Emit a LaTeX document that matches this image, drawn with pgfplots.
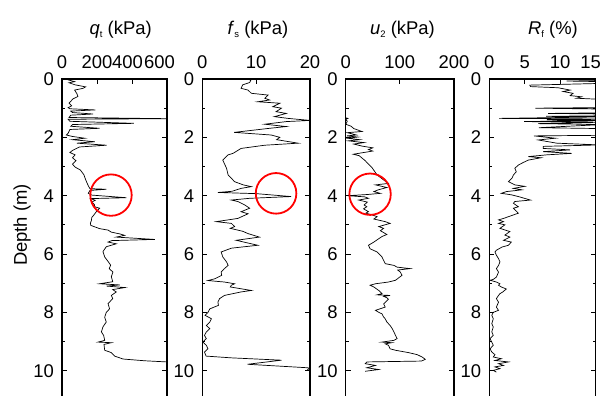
\documentclass[border=0pt]{standalone}
\usepackage{fontspec}
\setmainfont{Liberation Sans}
\usepackage{pgfplots}
\usepackage{pgfplotstable}
\pgfplotsset{compat=1.18}

\pgfplotstableread{
x y
30 0.0
35 0.03
72 0.09
40 0.13
75 0.2
135 0.27
120 0.32
72 0.38
85 0.5
91 0.6
63 0.68
40 0.83
55 0.92
35 0.98
45 1.02
190 1.06
50 1.1
60 1.15
178 1.2
50 1.24
40 1.32
600 1.36
35 1.38
45 1.45
411 1.52
60 1.56
50 1.62
215 1.69
45 1.73
40 1.8
35 1.86
25 1.92
60 1.97
130 2.03
60 2.08
187 2.15
85 2.2
255 2.27
100 2.33
60 2.45
45 2.52
75 2.6
60 2.7
80 2.8
60 2.92
75 3.02
105 3.12
125 3.28
135 3.45
142 3.55
152 3.68
160 3.76
253 3.78
160 3.82
150 3.92
170 3.98
368 4.07
165 4.1
190 4.16
170 4.22
185 4.3
187 4.38
215 4.43
196 4.55
185 4.64
170 4.75
168 4.85
162 4.95
165 5.02
215 5.13
263 5.18
282 5.25
330 5.31
358 5.36
310 5.42
530 5.5
285 5.54
263 5.59
310 5.65
253 5.75
234 5.92
244 6.1
259 6.22
278 6.38
270 6.5
291 6.62
282 6.78
290 6.95
215 7.02
330 7.06
255 7.1
360 7.15
290 7.22
310 7.3
282 7.42
290 7.53
263 7.7
272 7.88
253 8.0
244 8.17
253 8.33
234 8.5
225 8.67
238 8.79
244 8.96
206 9.02
282 9.04
240 9.1
244 9.3
282 9.38
301 9.5
349 9.6
472 9.66
600 9.7
}\qtdata

\pgfplotstableread{
x y
8.6 0.0
9.0 0.05
8.8 0.12
7.5 0.2
7.2 0.32
8.5 0.38
9.1 0.49
12.2 0.55
11.6 0.66
12.5 0.72
10.3 0.78
14.4 0.83
13.1 0.95
14.7 1.0
13.7 1.12
15.6 1.18
13.4 1.29
15.9 1.35
20 1.42
15.6 1.46
11.6 1.55
15.6 1.63
12.5 1.69
5.9 1.83
12.8 1.92
14.4 2.0
13.8 2.08
17.8 2.2
11.6 2.27
7.2 2.38
5.7 2.55
4.8 2.6
3.8 2.78
4.1 2.9
4.5 3.06
4.8 3.29
6.0 3.52
7.6 3.63
9.1 3.69
7.2 3.75
5.5 3.85
2.9 3.89
10.0 3.93
16.5 4.03
8.8 4.09
5.4 4.15
6.6 4.2
7.9 4.32
8.8 4.43
7.2 4.55
8.5 4.62
6.6 4.78
2.6 4.89
5.4 4.95
6.0 5.06
5.2 5.12
7.5 5.22
8.5 5.3
10.6 5.42
6.3 5.53
10.3 5.70
5.4 5.8
3.5 5.93
3.8 6.1
4.5 6.27
4.8 6.39
4.1 6.5
3.5 6.62
3.6 6.73
2.3 6.85
1.05 6.91
4.1 6.96
6.0 7.02
5.4 7.07
5.2 7.13
9.1 7.25
7.2 7.3
4.1 7.42
3.2 7.53
2.9 7.65
3.0 7.76
1.4 7.88
1.05 8.0
0.5 8.1
1.7 8.22
1.4 8.33
0.75 8.45
1.4 8.56
0.75 8.67
0.4 8.79
0.75 8.9
0.1 9.02
0.75 9.13
1.05 9.25
0.4 9.36
0.7 9.5
5.4 9.56
14.7 9.64
8.4 9.78
19.6 9.9
20 9.93
19.5 9.96
}\fsdata

\pgfplotstableread{
x y
0 1.33
4 1.35
0 1.38
3 1.45
0 1.55
10 1.62
15 1.7
30 1.8
3 1.84
20 1.92
2 1.95
22 1.99
3 2.03
26 2.08
5 2.12
34 2.18
15 2.23
30 2.3
50 2.36
42 2.42
50 2.47
30 2.53
14 2.58
25 2.63
36 2.8
49 3.05
58 3.29
70 3.46
79 3.58
55 3.63
76 3.72
60 3.8
52 3.86
64 3.92
40 3.96
4 4.0
35 4.04
42 4.09
24 4.15
40 4.22
34 4.32
39 4.38
33 4.45
42 4.55
37 4.6
49 4.66
58 4.72
52 4.8
73 4.89
82 4.95
61 5.06
70 5.12
64 5.2
76 5.33
67 5.4
52 5.59
42 5.7
45 5.82
58 5.93
67 6.1
70 6.22
73 6.33
89 6.39
95 6.45
119 6.5
96 6.55
101 6.62
104 6.73
92 6.9
79 6.96
55 7.02
45 7.07
52 7.13
61 7.25
67 7.36
58 7.4
82 7.42
70 7.45
76 7.5
79 7.55
70 7.71
73 7.82
55 7.93
61 8.0
67 8.05
70 8.16
73 8.22
76 8.33
82 8.45
86 8.56
89 8.67
92 8.79
95 8.9
89 8.96
67 9.02
85 9.04
73 9.08
79 9.13
82 9.25
92 9.3
116 9.38
132 9.45
141 9.53
147 9.61
140 9.67
39 9.7
36 9.76
55 9.82
39 9.9
61 9.96
36 10.02
}\uudata

\pgfplotstableread{
x y
16 0.05
10.9 0.07
16 0.09
16 0.15
5.7 0.21
5.8 0.26
9.7 0.3
11.4 0.38
10.4 0.43
11.8 0.49
11.4 0.57
13.0 0.61
12.3 0.66
16 0.7
16 0.98
6.5 1.0
16 1.03
16 1.16
8.3 1.18
16 1.2
16 1.26
8.0 1.28
16 1.3
1.4 1.35
16 1.37
8.1 1.4
16 1.42
4.9 1.46
16 1.48
6.9 1.53
16 1.56
7.0 1.67
16 1.7
16 1.93
6.3 1.95
9.3 2.03
6.9 2.09
9.5 2.2
15.5 2.26
7.6 2.31
7.6 2.38
11.4 2.43
7.6 2.49
11.6 2.55
8.1 2.6
5.5 2.66
7.3 2.7
5.5 2.78
4.8 2.86
4.1 2.95
3.6 3.06
3.8 3.18
3.4 3.29
3.2 3.4
2.7 3.52
3.6 3.63
5.0 3.68
3.4 3.75
4.6 3.8
2.4 3.86
1.7 3.92
3.1 3.97
4.1 4.03
5.8 4.15
3.6 4.2
3.4 4.26
4.1 4.38
3.4 4.43
3.9 4.55
4.1 4.6
3.4 4.66
2.0 4.78
1.3 4.83
2.0 4.89
1.3 4.95
2.2 5.0
1.5 5.12
2.9 5.23
2.2 5.35
2.9 5.42
2.0 5.53
3.1 5.59
2.7 5.7
1.8 5.76
1.0 5.87
0.8 5.93
1.0 6.04
1.3 6.16
1.5 6.27
1.3 6.39
1.0 6.5
1.3 6.62
1.0 6.79
0.56 6.87
0.1 6.9
1.0 6.96
1.5 7.02
1.3 7.07
1.7 7.13
2.4 7.2
1.9 7.3
1.5 7.36
1.3 7.42
1.0 7.53
1.3 7.65
1.0 7.82
1.3 7.93
0.56 8.0
0.35 8.1
0.56 8.22
0.35 8.39
0.56 8.5
0.35 8.67
0.56 8.79
0.1 8.9
0.35 9.02
0.56 9.13
0.1 9.25
0.35 9.36
0.8 9.45
0.56 9.53
1.7 9.59
0.8 9.65
2.7 9.7
1.3 9.76
2.0 9.82
0.8 9.87
1.5 9.93
0.56 9.99
1.0 10.05
}\rfdata

\pgfplotsset{
  cpt/.style={
    scale only axis,
    height=329.6bp,
    ymin=0, ymax=11.3,
    y dir=reverse,
    ytick={0,2,4,6,8,10},
    minor ytick={1,3,5,7,9,11},
    tick align=inside,
    xtick pos=upper, ytick pos=both,
    xticklabel pos=upper,
    yticklabel pos=lower,
    major tick length=5bp,
    minor tick length=3bp,
    every tick/.style={black, line width=0.9bp},
    axis line style={line width=1.2bp},
    tick label style={font=\fontsize{18.5}{20}\selectfont},
    /pgf/number format/assume math mode=true,
    xticklabel style={inner sep=0pt, anchor=south, yshift=10.5bp},
    yticklabel style={inner sep=0pt, anchor=east, xshift=-8bp},
    anchor=north west,
  },
  curve/.style={black, line width=0.7bp, mark=none},
}

\begin{document}
\begin{tikzpicture}
\useasboundingbox (0,0) rectangle (608bp,-396bp);
\fill[white] (0,0) rectangle (608bp,-396bp);

\begin{axis}[cpt, at={(62bp,-79bp)}, width=105bp,
  xmin=0, xmax=600, xtick={0,200,400,600},
  xticklabels={0,200,{\makebox[0pt]{\hspace*{-9bp}400}},{\makebox[0pt]{\hspace*{-15bp}600}}}]
\addplot[curve] table[x=x,y=y] {\qtdata};
\draw[red, line width=1.8bp] (axis cs:280,3.98) circle[radius=20.7bp];
\end{axis}

\begin{axis}[cpt, at={(202.3bp,-79bp)}, width=107.7bp,
  xmin=0, xmax=20, xtick={0,10,20}]
\addplot[curve] table[x=x,y=y] {\fsdata};
\draw[red, line width=1.8bp] (axis cs:13.7,3.92) circle[radius=20.3bp];
\end{axis}

\begin{axis}[cpt, at={(345.7bp,-79bp)}, width=108.3bp,
  xmin=0, xmax=200, xtick={0,100,200}]
\addplot[curve] table[x=x,y=y] {\uudata};
\draw[red, line width=1.8bp] (axis cs:45,3.95) circle[radius=20.7bp];
\end{axis}

\begin{axis}[cpt, at={(489.3bp,-79bp)}, width=106.4bp,
  xmin=0, xmax=15, xtick={0,5,10,15},
  xticklabels={0,5,10,{\makebox[0pt]{\hspace*{-10bp}15}}}]
\addplot[curve] table[x=x,y=y] {\rfdata};
\end{axis}

\tikzset{ttl/.style={anchor=base, inner sep=0pt, font=\fontsize{18.5}{20}\selectfont}}
\node[ttl] at (120.7bp,-34.5bp) {\textit{q}\raisebox{-2.8bp}{\fontsize{9.5}{10}\selectfont t} (kPa)};
\node[ttl] at (258bp,-34.5bp) {\textit{f}\raisebox{-2.8bp}{\fontsize{9.5}{10}\selectfont s} (kPa)};
\node[ttl] at (402.5bp,-34.5bp) {\textit{u}\raisebox{-2.8bp}{\fontsize{9.5}{10}\selectfont 2} (kPa)};
\node[ttl] at (553bp,-34.5bp) {\textit{R}\raisebox{-2.8bp}{\fontsize{9.5}{10}\selectfont f} (\%)};
\node[rotate=90, inner sep=0pt, font=\fontsize{18.5}{20}\selectfont] at (22bp,-225bp) {Depth (m)};
\end{tikzpicture}
\end{document}
